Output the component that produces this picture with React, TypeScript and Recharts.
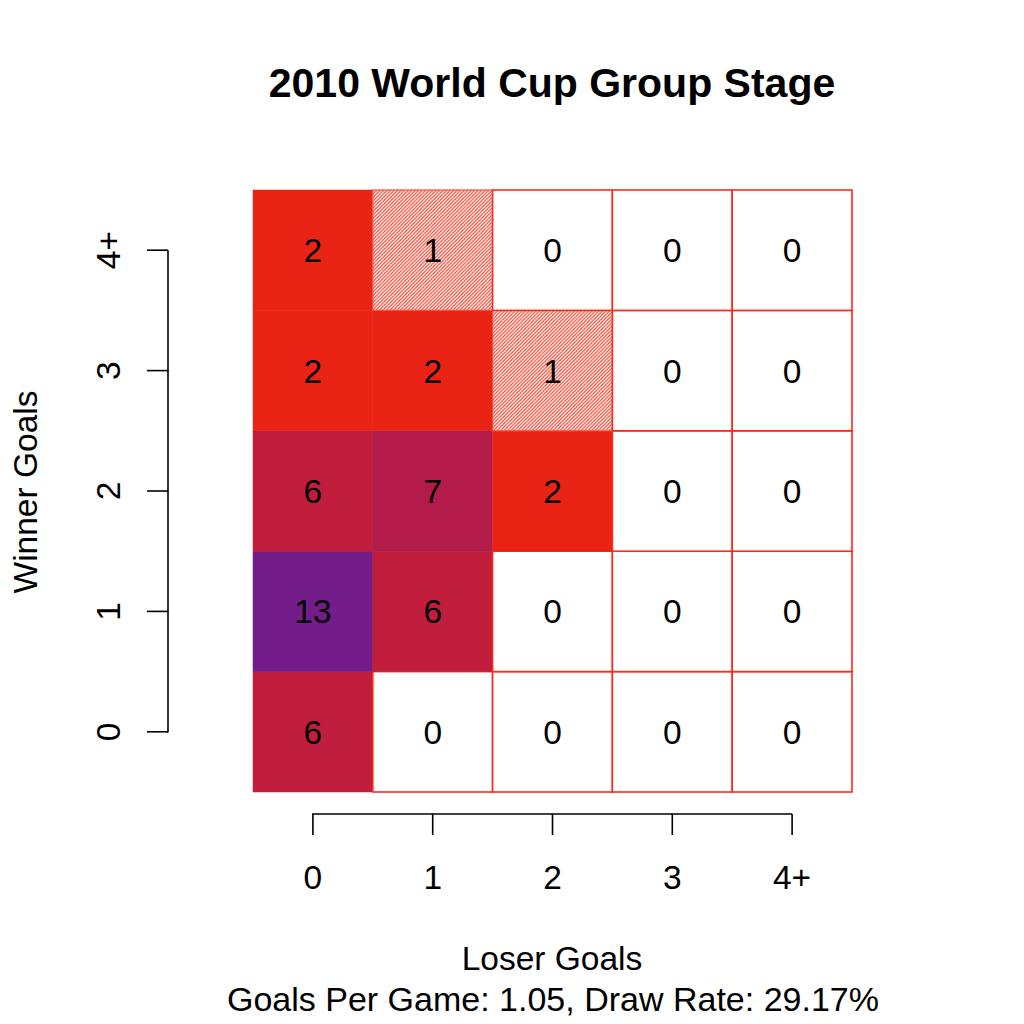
import React from "react";
import { ScatterChart, Scatter, XAxis, YAxis } from "recharts";

const loserGoals = ["0", "1", "2", "3", "4+"];
const winnerGoals = ["0", "1", "2", "3", "4+"];
// counts[winnerIndex][loserIndex]
const counts0 = [6, 0, 0, 0, 0];
const counts1 = [13, 6, 0, 0, 0];
const counts2 = [6, 7, 2, 0, 0];
const counts3 = [2, 2, 1, 0, 0];
const counts4 = [2, 1, 0, 0, 0];
const countRows = [counts0, counts1, counts2, counts3, counts4];
const xTicks = [0, 1, 2, 3, 4];
const yTicks = [0, 1, 2, 3, 4];

const title = "2010 World Cup Group Stage";
const xTitle = "Loser Goals";
const yTitle = "Winner Goals";
const subtitle = "Goals Per Game: 1.05, Draw Rate: 29.17%";

const colorFor: Record<number, string> = {
  2: "#EA2415",
  6: "#C11E3D",
  7: "#B31C4A",
  13: "#741C8A",
};

const data: { x: number; y: number; count: number }[] = [];
countRows.forEach((row, wi) =>
  row.forEach((c, li) => data.push({ x: li, y: wi, count: c }))
);

const W = 1024;
const H = 1024;
const LEFT = 253;
const RIGHT = 852;
const TOP = 190;
const BOTTOM = 792;
const CW = (RIGHT - LEFT) / 5;
const CH = (BOTTOM - TOP) / 5;
const FONT = "'Liberation Sans', Arial, Helvetica, sans-serif";
const BORDER = "#FF2A1A";

const Cell = (props: any) => {
  const { cx, cy, payload } = props;
  const c = payload.count;
  const x = cx - CW / 2;
  const y = cy - CH / 2;
  let rect;
  if (c === 0) {
    rect = (
      <rect x={x} y={y} width={CW} height={CH} fill="#FFFFFF" stroke={BORDER} strokeWidth={1.6} />
    );
  } else if (c === 1) {
    rect = (
      <g>
        <rect x={x} y={y} width={CW} height={CH} fill="#FFFFFF" />
        <rect x={x} y={y} width={CW} height={CH} fill="url(#hatch)" stroke="#F5503F" strokeWidth={1.2} />
      </g>
    );
  } else {
    const col = colorFor[c] || "#EA2415";
    rect = <rect x={x} y={y} width={CW} height={CH} fill={col} stroke={col} strokeWidth={0.5} />;
  }
  return (
    <g>
      {rect}
      <text x={cx} y={cy + 12} textAnchor="middle" fontSize={33.5} fontFamily={FONT} fill="#000000">
        {c}
      </text>
    </g>
  );
};

const renderXTick = (props: any) => {
  const { x, payload, index } = props;
  const ay = BOTTOM + 22;
  return (
    <g key={`xt-${index}`}>
      <line x1={x} y1={ay} x2={x} y2={ay + 21} stroke="#000" strokeWidth={1.6} />
      {index < xTicks.length - 1 && (
        <line x1={x - 0.8} y1={ay} x2={x + CW} y2={ay} stroke="#000" strokeWidth={1.6} />
      )}
      <text x={x} y={ay + 75} textAnchor="middle" fontSize={33.5} fontFamily={FONT} fill="#000">
        {loserGoals[payload.value]}
      </text>
    </g>
  );
};

const renderYTick = (props: any) => {
  const { y, payload, index } = props;
  const ax = LEFT - 85;
  const lx = ax - 48;
  return (
    <g key={`yt-${index}`}>
      <line x1={ax} y1={y} x2={ax - 21} y2={y} stroke="#000" strokeWidth={1.6} />
      {index < yTicks.length - 1 && (
        <line x1={ax} y1={y + 0.8} x2={ax} y2={y - CH} stroke="#000" strokeWidth={1.6} />
      )}
      <text
        x={lx}
        y={y}
        transform={`rotate(-90, ${lx}, ${y})`}
        textAnchor="middle"
        fontSize={33.5}
        fontFamily={FONT}
        fill="#000"
      >
        {winnerGoals[payload.value]}
      </text>
    </g>
  );
};

export default function App() {
  return (
    <div style={{ position: "absolute", left: 0, top: 0, width: W, height: H, background: "#fff" }}>
      <ScatterChart
        width={W}
        height={H}
        margin={{ top: TOP, bottom: H - BOTTOM - 20, left: LEFT - 20, right: W - RIGHT }}
      >
        <defs>
          <pattern id="hatch" patternUnits="userSpaceOnUse" width={3.5} height={3.5}>
            <path d="M-1,1 l2,-2 M0,3.5 l3.5,-3.5 M2.5,4.5 l2,-2" stroke="#F04634" strokeWidth={1.2} />
          </pattern>
        </defs>
        <XAxis
          type="number"
          dataKey="x"
          domain={[-0.5, 4.5]}
          ticks={xTicks}
          height={20}
          axisLine={false}
          tickLine={false}
          interval={0}
          tick={renderXTick}
        />
        <YAxis
          type="number"
          dataKey="y"
          domain={[-0.5, 4.5]}
          ticks={yTicks}
          width={20}
          axisLine={false}
          tickLine={false}
          interval={0}
          tick={renderYTick}
        />
        <Scatter data={data} shape={<Cell />} isAnimationActive={false} />
        <text x={552} y={97} textAnchor="middle" fontSize={41} fontWeight="bold" fontFamily={FONT} fill="#000">
          {title}
        </text>
        <text x={552} y={970} textAnchor="middle" fontSize={33.5} fontFamily={FONT} fill="#000">
          {xTitle}
        </text>
        <text x={553} y={1011} textAnchor="middle" fontSize={34} fontFamily={FONT} fill="#000">
          {subtitle}
        </text>
        <text
          x={37}
          y={492}
          transform="rotate(-90, 37, 492)"
          textAnchor="middle"
          fontSize={33.5}
          fontFamily={FONT}
          fill="#000"
        >
          {yTitle}
        </text>
      </ScatterChart>
    </div>
  );
}
